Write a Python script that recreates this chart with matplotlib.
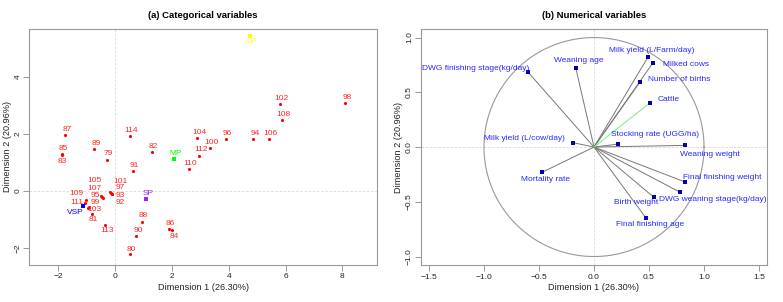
import matplotlib
matplotlib.use("Agg")
import matplotlib.pyplot as plt
import numpy as np

plt.rcParams['font.family'] = ['Liberation Sans', 'DejaVu Sans']

# ---------------- data: (a) categorical variables ----------------
ind_labels = ['79', '80', '81', '82', '83', '84', '85', '86', '87', '88', '89', '90',
              '91', '92', '93', '94', '95', '96', '97', '98', '99', '100', '101', '102',
              '103', '104', '105', '106', '107', '108', '109', '110', '111', '112', '113', '114']
ind_x = [-0.28, 0.52, -0.80, 1.29, -1.86, 2.02, -1.87, 1.89, -1.75, 0.94, -0.73, 0.75,
         0.63, -0.12, -0.10, 4.87, -0.43, 3.91, -0.14, 8.11, -0.95, 3.35, -0.18, 5.80,
         -0.93, 2.90, -0.50, 5.41, -0.46, 5.86, -1.02, 2.59, -1.06, 2.97, -0.34, 0.52]
ind_y = [1.10, -2.23, -0.82, 1.37, 1.25, -1.38, 1.30, -1.32, 1.96, -1.09, 1.48, -1.59,
         0.70, -0.12, -0.10, 1.81, -0.24, 1.82, -0.07, 3.08, -0.60, 1.50, -0.04, 3.05,
         -0.57, 1.85, -0.17, 1.81, -0.20, 2.50, -0.32, 0.76, -0.43, 1.24, -1.20, 1.93]

sup_labels = ['LP', 'MP', 'SP', 'VSP']
sup_x = [4.76, 2.09, 1.09, -1.12]
sup_y = [5.43, 1.13, -0.27, -0.52]
sup_colors = ['#FFFF00', '#00FF00', '#A020F0', '#0000FF']

# ---------------- data: (b) numerical variables ----------------
var_names = ['DWG finishing stage(kg/day)', 'Weaning age', 'Milk yield (L/cow/day)',
             'Mortality rate', 'Milk yield (L/Farm/day)', 'Milked cows', 'Number of births',
             'Stocking rate (UGG/ha)', 'Weaning weight', 'Final finishing weight',
             'DWG weaning stage(kg/day)', 'Birth weight', 'Final finishing age']
var_x = [-0.60, -0.166, -0.19, -0.47, 0.49, 0.536, 0.415, 0.22, 0.825, 0.83, 0.785, 0.545, 0.473]
var_y = [0.685, 0.724, 0.04, -0.23, 0.82, 0.77, 0.59, 0.027, 0.015, -0.32, -0.414, -0.46, -0.65]

sup_var_names = ['Cattle']
sup_var_x = [0.51]
sup_var_y = [0.405]

# ---------------- layout helpers ----------------
default_off = (1.5, 5.6)
ind_off = {'83': (0.5, -6.7)}
ind_label_xy = {  # crowded labels placed explicitly (data coords)
    '105': (-0.73, 0.35), '107': (-0.73, 0.10), '95': (-0.70, -0.15),
    '99': (-0.70, -0.39), '103': (-0.73, -0.64), '109': (-1.35, -0.10),
    '111': (-1.35, -0.41), '81': (-0.76, -1.02), '101': (0.18, 0.33),
    '97': (0.18, 0.13), '93': (0.18, -0.16), '92': (0.18, -0.41),
    '113': (-0.29, -1.40), '88': (1.00, -0.88), '90': (0.81, -1.40),
    '80': (0.56, -2.04), '86': (1.94, -1.13), '84': (2.07, -1.60),
}
sup_label_xy = {'LP': (4.81, 5.23), 'MP': (2.15, 1.32), 'SP': (1.15, -0.08), 'VSP': (-1.41, -0.75)}

var_label_pos = {  # (x, y, ha) for label anchors
    'DWG finishing stage(kg/day)': (-0.585, 0.72, 'right'),
    'Weaning age': (-0.14, 0.79, 'center'),
    'Milk yield (L/cow/day)': (-0.265, 0.08, 'right'),
    'Mortality rate': (-0.44, -0.295, 'center'),
    'Milk yield (L/Farm/day)': (0.52, 0.886, 'center'),
    'Milked cows': (0.625, 0.755, 'left'),
    'Number of births': (0.49, 0.62, 'left'),
    'Cattle': (0.58, 0.43, 'left'),
    'Stocking rate (UGG/ha)': (0.155, 0.11, 'left'),
    'Weaning weight': (0.785, -0.067, 'left'),
    'Final finishing weight': (0.806, -0.28, 'left'),
    'DWG weaning stage(kg/day)': (0.594, -0.478, 'left'),
    'Birth weight': (0.185, -0.51, 'left'),
    'Final finishing age': (0.197, -0.71, 'left'),
}

W, H = 783, 302
fig = plt.figure(figsize=(W / 100, H / 100), dpi=100)

spine_c = '#999999'
tick_c = '#222222'
fs_tick = 6.0
fs_lab = 6.6
fs_txt = 6.0
fs_title = 6.8


def style_axes(ax):
    for s in ax.spines.values():
        s.set_color(spine_c)
        s.set_linewidth(0.8)
    ax.tick_params(colors=spine_c, labelcolor=tick_c, labelsize=fs_tick, length=4, width=0.7, pad=2)
    ax.tick_params(axis='y', pad=1.5)
    plt.setp(ax.get_yticklabels(), rotation=90, va='center')


# ---------- (a) ----------
ax1 = fig.add_axes([29 / W, 1 - 265 / H, 348 / W, 236 / H])
ax1.set_xlim(-3.03, 9.22)
ax1.set_ylim(-2.6, 5.68)
ax1.axhline(0, color='#d9d9d9', lw=0.6, ls=(0, (3, 2)), zorder=0)
ax1.axvline(0, color='#d9d9d9', lw=0.6, ls=(0, (3, 2)), zorder=0)
ax1.scatter(ind_x, ind_y, s=5, color='red', zorder=3, linewidths=0)
for lab, x, y in zip(ind_labels, ind_x, ind_y):
    if lab in ind_label_xy:
        lx, ly = ind_label_xy[lab]
        ax1.text(lx, ly, lab, color='#FF2828', fontsize=fs_txt, ha='center', va='center')
    else:
        off = ind_off.get(lab, default_off)
        ax1.annotate(lab, (x, y), xytext=off, textcoords='offset pixels',
                     color='#FF2828', fontsize=fs_txt, ha='center', va='center')
for lab, x, y, c in zip(sup_labels, sup_x, sup_y, sup_colors):
    ax1.scatter([x], [y], s=5, color=c, zorder=3, linewidths=0, marker='s')
    lx, ly = sup_label_xy[lab]
    ax1.text(lx, ly, lab, color=c, fontsize=fs_txt, ha='center', va='center')
ax1.set_xticks([-2, 0, 2, 4, 6, 8])
ax1.set_yticks([-2, 0, 2, 4])
style_axes(ax1)
ax1.set_xlabel('Dimension 1 (26.30%)', fontsize=fs_lab, color=tick_c, labelpad=2)
ax1.set_ylabel('Dimension 2 (20.96%)', fontsize=fs_lab, color=tick_c, labelpad=2)
ax1.set_title('(a) Categorical variables', fontsize=fs_title, fontweight='bold', pad=8)

# ---------- (b) ----------
ax2 = fig.add_axes([420.7 / W, 1 - 265.3 / H, 346.6 / W, 236.3 / H])
ax2.set_xlim(-1.575, 1.575)
ax2.set_ylim(-1.08, 1.078)
ax2.axhline(0, color='#d9d9d9', lw=0.6, ls=(0, (3, 2)), zorder=0)
ax2.axvline(0, color='#d9d9d9', lw=0.6, ls=(0, (3, 2)), zorder=0)
t = np.linspace(0, 2 * np.pi, 400)
ax2.plot(np.cos(t), np.sin(t), color='#999999', lw=0.8)
for name, x, y in zip(var_names, var_x, var_y):
    ax2.plot([0, x], [0, y], color='#777777', lw=0.7, zorder=2)
    ax2.scatter([x], [y], s=5, marker='s', color='#0000B0', zorder=3, linewidths=0)
    lx, ly, ha = var_label_pos[name]
    ax2.text(lx, ly, name, color='#2828FF', fontsize=fs_txt, ha=ha, va='center')
for name, x, y in zip(sup_var_names, sup_var_x, sup_var_y):
    ax2.plot([0, x], [0, y], color='#77EE77', lw=0.7, zorder=2)
    ax2.scatter([x], [y], s=5, marker='s', color='#0000B0', zorder=3, linewidths=0)
    lx, ly, ha = var_label_pos[name]
    ax2.text(lx, ly, name, color='#2828FF', fontsize=fs_txt, ha=ha, va='center')
ax2.set_xticks([-1.5, -1.0, -0.5, 0.0, 0.5, 1.0, 1.5])
ax2.set_yticks([-1.0, -0.5, 0.0, 0.5, 1.0])
style_axes(ax2)
ax2.set_xlabel('Dimension 1 (26.30%)', fontsize=fs_lab, color=tick_c, labelpad=2)
ax2.set_ylabel('Dimension 2 (20.96%)', fontsize=fs_lab, color=tick_c, labelpad=2)
ax2.set_title('(b) Numerical variables', fontsize=fs_title, fontweight='bold', pad=8)

fig.savefig('out.png', dpi=100)
